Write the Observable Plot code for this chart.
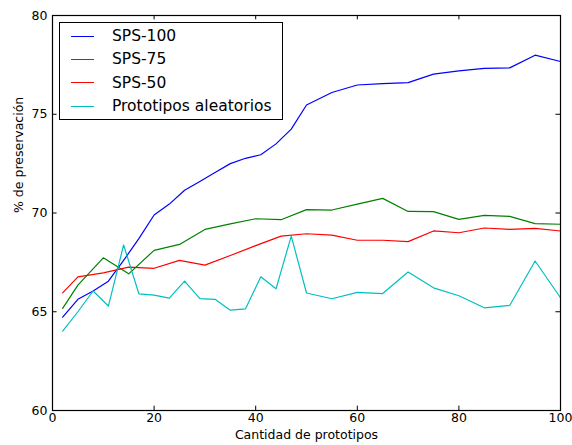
<!DOCTYPE html>
<html><head><meta charset="utf-8">
<script src="https://cdn.jsdelivr.net/npm/d3@7"></script>
<script src="https://cdn.jsdelivr.net/npm/@observablehq/plot@0.6"></script>
<style>
body{margin:0;background:#fff;font-family:"DejaVu Sans",sans-serif;}
#wrap{position:relative;width:572px;height:445px;}
#legend{position:absolute;left:59px;top:22px;width:224px;height:98px;border:1px solid #000;background:#fff;box-sizing:border-box;font-size:15.5px;color:#000;}
.row{position:absolute;left:0;height:20px;display:flex;align-items:center;white-space:nowrap;}
.sw{width:23px;height:0;border-top:1.3px solid;margin-left:11px;margin-right:18px;}
</style>
</head><body>
<div id="wrap"><div id="chart"></div><div id="legend"></div></div>
<script>
const seriesNames = ["SPS-100", "SPS-75", "SPS-50", "Prototipos aleatorios"];
const seriesColors = ["#0000ff", "#008000", "#ff0000", "#00bfbf"];

const xSps100 = [2,5,8,11,14,17,20,23,26,29,32,35,38,41,44,47,50,55,60,65,70,75,80,85,90,95,100];
const sps100 = [64.73,65.63,66.05,66.55,67.6,68.7,69.9,70.45,71.15,71.6,72.05,72.5,72.77,72.95,73.5,74.25,75.47,76.1,76.48,76.55,76.6,77.03,77.2,77.32,77.35,77.99,77.67];

const xSps75 = [2,5,10,15,20,25,30,35,40,45,50,55,60,65,70,75,80,85,90,95,100];
const sps75 = [65.17,66.35,67.73,66.92,68.11,68.41,69.17,69.45,69.71,69.66,70.17,70.15,70.45,70.74,70.08,70.07,69.68,69.88,69.83,69.46,69.43];

const xSps50 = [2,5,10,15,20,25,30,35,40,45,50,55,60,65,70,75,80,85,90,95,100];
const sps50 = [65.96,66.77,66.97,67.26,67.2,67.6,67.36,67.85,68.35,68.83,68.95,68.88,68.62,68.62,68.55,69.09,69.0,69.24,69.17,69.22,69.09];

const xRandom = [2,5,8,11,14,17,20,23,26,29,32,35,38,41,44,47,50,55,60,65,70,75,80,85,90,95,100];
const randomProto = [64.02,65.0,66.05,65.29,68.38,65.91,65.84,65.69,66.55,65.66,65.63,65.08,65.15,66.77,66.16,68.83,65.95,65.66,65.98,65.92,67.01,66.21,65.81,65.2,65.32,67.57,65.71];

const xTicks = [0,20,40,60,80,100];
const yTicks = [60,65,70,75,80];
const xLabel = "Cantidad de prototipos";
const yLabel = "% de preservación";

const rows = [];
[[xSps100, sps100], [xSps75, sps75], [xSps50, sps50], [xRandom, randomProto]].forEach(([xs, ys], i) => {
  xs.forEach((x, j) => rows.push({series: seriesNames[i], x, y: ys[j]}));
});

const chart = Plot.plot({
  width: 572, height: 445,
  marginLeft: 52, marginRight: 12, marginTop: 15, marginBottom: 35,
  style: {fontFamily: "DejaVu Sans", fontSize: "12.5px", color: "black", background: "white"},
  x: {domain: [0, 100], label: null},
  y: {domain: [60, 80], label: null},
  color: {domain: seriesNames, range: seriesColors},
  marks: [
    Plot.line(rows, {x: "x", y: "y", z: "series", stroke: "series", strokeWidth: 1.2}),
    Plot.ruleX(xTicks, {x: d => d, y1: 60, y2: 60.22, stroke: "black"}),
    Plot.ruleX(xTicks, {x: d => d, y1: 79.78, y2: 80, stroke: "black"}),
    Plot.ruleY(yTicks, {y: d => d, x1: 0, x2: 0.9, stroke: "black"}),
    Plot.ruleY(yTicks, {y: d => d, x1: 99.1, x2: 100, stroke: "black"}),
    Plot.frame({stroke: "black", strokeWidth: 1.2}),
    Plot.axisX(xTicks, {tickSize: 0, tickPadding: 3, fontSize: 12.5, label: null}),
    Plot.axisY(yTicks, {tickSize: 0, tickPadding: 5, fontSize: 12.5, label: null}),
    Plot.text([xLabel], {frameAnchor: "bottom", dy: 28, fontSize: 12.5, fill: "black"}),
    Plot.text([yLabel], {frameAnchor: "left", dx: -34, rotate: -90, fontSize: 12.5, fill: "black"})
  ]
});
document.getElementById("chart").appendChild(chart);

const legend = document.getElementById("legend");
seriesNames.forEach((name, i) => {
  const row = document.createElement("div");
  row.className = "row";
  row.style.top = (3 + i * 23.4) + "px";
  const sw = document.createElement("span");
  sw.className = "sw";
  sw.style.borderTopColor = seriesColors[i];
  const t = document.createElement("span");
  t.textContent = name;
  row.appendChild(sw); row.appendChild(t);
  legend.appendChild(row);
});
</script>
</body></html>
